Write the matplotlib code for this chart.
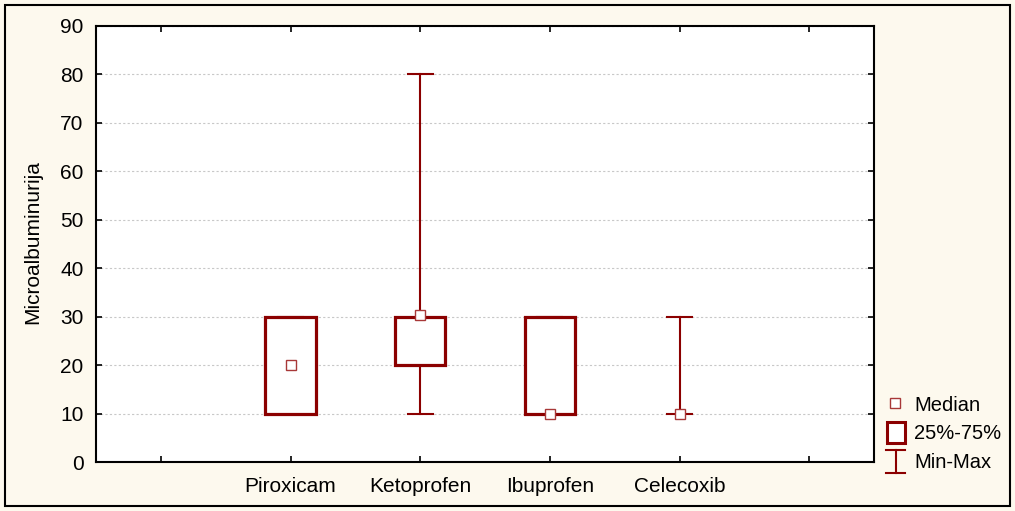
import numpy as np
import matplotlib
matplotlib.use("Agg")
import matplotlib.pyplot as plt
from matplotlib.patches import Rectangle
from matplotlib.lines import Line2D

plt.rcParams['font.family'] = ['Liberation Sans', 'DejaVu Sans']

# datos
categorias = ['Piroxicam', 'Ketoprofen', 'Ibuprofen', 'Celecoxib']
medianas = [20, 30.3, 10, 10]
q25 = [10, 20, 10, 10]
q75 = [30, 30, 30, 10]
minimos = [10, 10, 10, 10]
maximos = [30, 80, 30, 30]

rojo = '#8B0000'
fondo = '#FDF9EE'

fig = plt.figure(figsize=(10.15, 5.11), dpi=100, facecolor=fondo)
ax = fig.add_axes([96/1015, 1-462/511, 778/1015, 436/511])

pos = np.arange(1, len(categorias)+1)
ancho_caja = 0.39
ancho_tope = 0.195

for x, med, a, b, mn, mx in zip(pos, medianas, q25, q75, minimos, maximos):
    # bigotes
    ax.plot([x, x], [mn, a], color=rojo, lw=1.5, zorder=2)
    ax.plot([x, x], [b, mx], color=rojo, lw=1.5, zorder=2)
    ax.plot([x-ancho_tope/2, x+ancho_tope/2], [mn, mn], color=rojo, lw=1.5, zorder=2)
    ax.plot([x-ancho_tope/2, x+ancho_tope/2], [mx, mx], color=rojo, lw=1.5, zorder=2)
    # caja 25%-75%
    if b > a:
        ax.add_patch(Rectangle((x-ancho_caja/2, a), ancho_caja, b-a, facecolor='white',
                               edgecolor=rojo, lw=2.3, zorder=3))
    # mediana
    ax.plot(x, med, 's', ms=7.5, mfc='white', mec='#A83838', mew=1.0, zorder=4)

ax.set_xlim(-0.5, 5.5)
ax.set_ylim(0, 90)
ax.set_xticks(np.arange(0, 6))
ax.set_xticklabels([''] + categorias + [''])
ax.set_yticks(np.arange(0, 91, 10))
ax.tick_params(direction='in', length=4, width=1.2, labelsize=15, top=True, right=True,
               colors='black')
ax.tick_params(axis='x', pad=11)
ax.tick_params(axis='y', pad=9)
ax.grid(axis='y', linestyle=(0, (2, 2)), color='#C8C8C8', lw=0.8)
for s in ax.spines.values():
    s.set_linewidth(1.5)

ax.set_ylabel('Microalbuminurija', fontsize=15)
ax.yaxis.set_label_coords(-0.069, 0.505)

# leyenda
def fx(px):
    return px/1015
def fy(py):
    return 1-py/511

fig.add_artist(Line2D([fx(895)], [fy(403)], marker='s', ms=7, mfc='white', mec='#A83838',
                      mew=1.0, transform=fig.transFigure))
fig.text(fx(914), fy(405), 'Median', fontsize=14.5, va='center', ha='left')
fig.add_artist(Rectangle((fx(887), fy(443)), fx(18), 21/511, facecolor='white', edgecolor=rojo,
                         lw=2.2, transform=fig.transFigure))
fig.text(fx(914), fy(433), '25%-75%', fontsize=14.5, va='center', ha='left')
fig.add_artist(Line2D([fx(896), fx(896)], [fy(450), fy(473)], color=rojo, lw=1.5,
                      transform=fig.transFigure))
fig.add_artist(Line2D([fx(886), fx(905)], [fy(450), fy(450)], color=rojo, lw=1.5,
                      transform=fig.transFigure))
fig.add_artist(Line2D([fx(886), fx(905)], [fy(473), fy(473)], color=rojo, lw=1.5,
                      transform=fig.transFigure))
fig.text(fx(914), fy(462), 'Min-Max', fontsize=14.5, va='center', ha='left')

# marco exterior
fig.add_artist(Rectangle((fx(5), fy(506)), fx(1005), 501/511, fill=False, edgecolor='black',
                         lw=1.5, transform=fig.transFigure))

fig.savefig('out.png', dpi=100, facecolor=fondo)
